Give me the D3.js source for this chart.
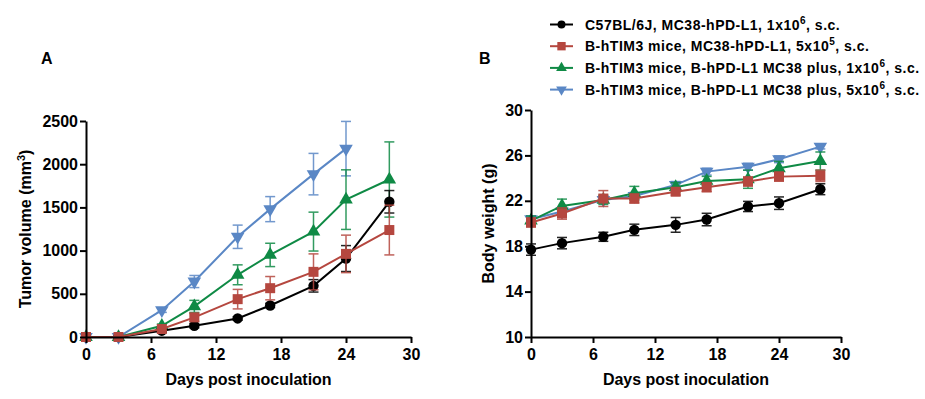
<!DOCTYPE html>
<html>
<head>
<meta charset="utf-8">
<script src="https://cdn.jsdelivr.net/npm/d3@7"></script>
<style>
  body { margin: 0; background: #fff; }
  svg { font-family: "Liberation Sans", Arial, sans-serif; font-weight: bold; }
  .axis path, .axis line { stroke: #000; stroke-width: 2px; }
  .axis text { font-size: 16px; font-weight: bold; fill: #000; }
</style>
</head>
<body>
<svg id="chart" width="925" height="399"></svg>
<script>
// ===== data =====
var days = [0, 3, 7, 10, 14, 17, 21, 24, 28];

var seriesNames = [
  ["C57BL/6J, MC38-hPD-L1, 1x10", "6", ", s.c."],
  ["B-hTIM3 mice, MC38-hPD-L1, 5x10", "5", ", s.c."],
  ["B-hTIM3 mice, B-hPD-L1 MC38 plus, 1x10", "6", ", s.c."],
  ["B-hTIM3 mice, B-hPD-L1 MC38 plus, 5x10", "6", ", s.c."]
];
var seriesColors = ["#000000", "#b5473f", "#0f8a45", "#5a87c5"];
var seriesSymbols = ["circle", "square", "triangle", "triangleDown"];

// Panel A: tumor volume (mm3), mean and error
var volBlack = [0, 0, 73, 130, 215, 365, 592, 908, 1565];
var volBlackErr = [0, 0, 15, 25, 20, 25, 72, 150, 130];
var volRed = [0, 0, 92, 227, 438, 565, 754, 962, 1238];
var volRedErr = [0, 0, 20, 45, 113, 135, 208, 217, 288];
var volGreen = [0, 0, 130, 354, 720, 950, 1220, 1590, 1823];
var volGreenErr = [0, 0, 20, 70, 115, 135, 225, 345, 435];
var volBlue = [0, 0, 310, 642, 1160, 1480, 1885, 2180];
var volBlueErr = [0, 0, 25, 70, 135, 145, 240, 315];

// Panel B: body weight (g), mean and error
var bwBlack = [17.7, 18.27, 18.83, 19.44, 19.88, 20.35, 21.5, 21.79, 23.02];
var bwBlackErr = [0.5, 0.5, 0.4, 0.5, 0.65, 0.55, 0.45, 0.55, 0.48];
var bwRed = [20.09, 20.88, 22.2, 22.2, 22.8, 23.2, 23.7, 24.13, 24.2];
var bwRedErr = [0.4, 0.5, 0.7, 0.4, 0.3, 0.4, 0.4, 0.4, 0.5];
var bwGreen = [20.26, 21.55, 22.08, 22.67, 23.2, 23.75, 23.9, 24.87, 25.5];
var bwGreenErr = [0.4, 0.6, 0.4, 0.6, 0.4, 0.4, 0.8, 0.6, 0.8];
var bwBlue = [20.38, 21.06, 22.08, 22.43, 23.4, 24.57, 25.0, 25.66, 26.77];
var bwBlueErr = [0.3, 0.3, 0.3, 0.3, 0.3, 0.3, 0.3, 0.3, 0.2];

var xTicks = [0, 6, 12, 18, 24, 30];
var volTicks = [0, 500, 1000, 1500, 2000, 2500];
var bwTicks = [10, 14, 18, 22, 26, 30];
// =======================================

var svg = d3.select("#chart");

function symbolPath(kind, size)
{
  if (kind == "circle") return d3.symbol(d3.symbolCircle, size)();
  if (kind == "square") return d3.symbol(d3.symbolSquare, size)();
  return d3.symbol(d3.symbolTriangle, size)();
}

function drawPanel(opts)
{
  var x = d3.scaleLinear().domain([0, 30]).range(opts.xRange);
  var y = d3.scaleLinear().domain(opts.yDomain).range(opts.yRange);
  var g = svg.append("g");

  // series, drawn so that red ends on top like the original
  var order = [3, 2, 0, 1];
  order.forEach(function(i) {
    var vals = opts.values[i], errs = opts.errors[i];
    var pts = vals.map(function(v, k) { return { d: days[k], v: v, e: errs[k] }; });
    var col = seriesColors[i];
    var sg = g.append("g");

    sg.selectAll("g.err").data(pts.filter(function(p) { return p.e > 0; }))
      .enter().append("g").attr("class", "err")
      .each(function(p) {
        var eg = d3.select(this);
        var cx = x(p.d);
        eg.append("line").attr("x1", cx).attr("x2", cx)
          .attr("y1", y(p.v - p.e)).attr("y2", y(p.v + p.e));
        [p.v - p.e, p.v + p.e].forEach(function(t) {
          eg.append("line").attr("x1", cx - 5).attr("x2", cx + 5)
            .attr("y1", y(t)).attr("y2", y(t));
        });
      })
      .attr("stroke", col).attr("stroke-width", 1.5).attr("opacity", 0.85);

    sg.append("path").datum(pts)
      .attr("fill", "none").attr("stroke", col).attr("stroke-width", 2)
      .attr("d", d3.line().x(function(p) { return x(p.d); }).y(function(p) { return y(p.v); }));

    var sizes = { circle: 85, square: 100, triangle: 80, triangleDown: 80 };
    sg.selectAll("path.mk").data(pts).enter().append("path")
      .attr("class", "mk")
      .attr("d", symbolPath(seriesSymbols[i], sizes[seriesSymbols[i]]))
      .attr("fill", col)
      .attr("transform", function(p) {
        var t = "translate(" + x(p.d) + "," + y(p.v) + ")";
        if (seriesSymbols[i] == "triangleDown") t += " rotate(180)";
        return t;
      });
  });

  // axes
  g.append("g").attr("class", "axis")
    .attr("transform", "translate(0," + opts.yRange[0] + ")")
    .call(d3.axisBottom(x).tickValues(xTicks).tickFormat(d3.format("d"))
      .tickSize(6).tickPadding(3).tickSizeOuter(0))
    .selectAll("text").attr("dy", "0.85em");
  g.append("g").attr("class", "axis")
    .attr("transform", "translate(" + opts.xRange[0] + ",0)")
    .call(d3.axisLeft(y).tickValues(opts.yTicks).tickFormat(d3.format("d"))
      .tickSize(6).tickPadding(2).tickSizeOuter(0));

  // titles
  g.append("text")
    .attr("x", (opts.xRange[0] + opts.xRange[1]) / 2).attr("y", 385)
    .attr("text-anchor", "middle").attr("font-size", 16)
    .text("Days post inoculation");

  var yt = g.append("text")
    .attr("transform", "translate(" + opts.yTitleX + "," + ((opts.yRange[0] + opts.yRange[1]) / 2) + ") rotate(-90)")
    .attr("text-anchor", "middle").attr("font-size", 16);
  yt.append("tspan").text(opts.yTitle[0]);
  if (opts.yTitle.length > 1) {
    yt.append("tspan").attr("dy", -6).attr("font-size", 11).text(opts.yTitle[1]);
    yt.append("tspan").attr("dy", 6).text(opts.yTitle[2]);
  }

  svg.append("text").attr("x", opts.labelX).attr("y", 63.5)
    .attr("font-size", 16).text(opts.label);
}

drawPanel({
  label: "A", labelX: 41,
  xRange: [86, 411], yRange: [337, 121], yDomain: [0, 2500], yTicks: volTicks,
  values: [volBlack, volRed, volGreen, volBlue],
  errors: [volBlackErr, volRedErr, volGreenErr, volBlueErr],
  yTitle: ["Tumor volume (mm", "3", ")"], yTitleX: 31
});

drawPanel({
  label: "B", labelX: 479,
  xRange: [531, 841], yRange: [337, 110], yDomain: [10, 30], yTicks: bwTicks,
  values: [bwBlack, bwRed, bwGreen, bwBlue],
  errors: [bwBlackErr, bwRedErr, bwGreenErr, bwBlueErr],
  yTitle: ["Body weight (g)"], yTitleX: 494
});

// legend
var legend = svg.append("g").attr("transform", "translate(550,24.5)");
var legendSizes = { circle: 50, square: 70, triangle: 50, triangleDown: 50 };
seriesNames.forEach(function(name, i) {
  var row = legend.append("g").attr("transform", "translate(0," + (i * 21.7) + ")");
  row.append("line").attr("x1", 0).attr("x2", 23).attr("y1", 0).attr("y2", 0)
    .attr("stroke", seriesColors[i]).attr("stroke-width", 2);
  row.append("path")
    .attr("d", symbolPath(seriesSymbols[i], legendSizes[seriesSymbols[i]]))
    .attr("fill", seriesColors[i])
    .attr("transform", "translate(11.5,0)" + (seriesSymbols[i] == "triangleDown" ? " rotate(180)" : ""));
  var t = row.append("text").attr("x", 35).attr("y", 5)
    .attr("font-size", 14).attr("letter-spacing", 0.5);
  t.append("tspan").text(name[0]);
  t.append("tspan").attr("dy", -6).attr("font-size", 10).text(name[1]);
  t.append("tspan").attr("dy", 6).text(name[2]);
});
</script>
</body>
</html>
